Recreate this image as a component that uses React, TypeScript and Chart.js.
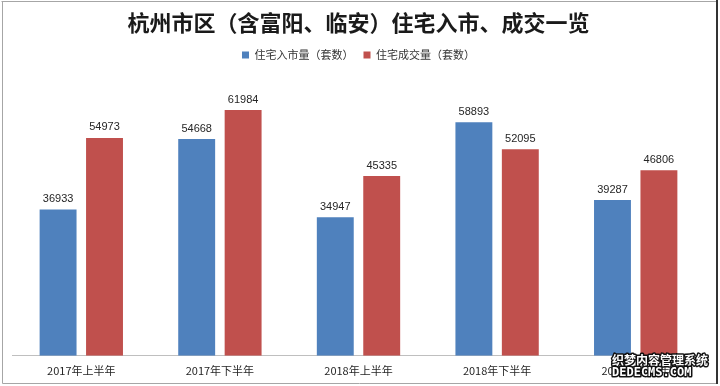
import React, { useEffect, useRef } from "react";
import { Chart, registerables } from "chart.js";

Chart.register(...registerables);

const categories = ["2017年上半年", "2017年下半年", "2018年上半年", "2018年下半年", "2019年上半年"];
const supplyValues = [36933, 54668, 34947, 58893, 39287];
const dealValues = [54973, 61984, 45335, 52095, 46806];
const seriesNames = ["住宅入市量（套数）", "住宅成交量（套数）"];
const titleText = "杭州市区（含富阳、临安）住宅入市、成交一览";
const watermarkLines = ["织梦内容管理系统", "DEDECMS.COM"];

const CJK = '"Noto Sans CJK SC", "Liberation Sans", sans-serif';

const framePlugin = {
  id: "frame",
  beforeDraw(chart: any) {
    const { ctx, width, height } = chart;
    ctx.save();
    ctx.fillStyle = "#ffffff";
    ctx.fillRect(0, 0, width, height);
    ctx.strokeStyle = "#a6a6a6";
    ctx.lineWidth = 1;
    ctx.beginPath();
    ctx.moveTo(1.5, 1.5);
    ctx.lineTo(width - 3.5, 1.5);
    ctx.moveTo(2.5, 1.5);
    ctx.lineTo(2.5, height - 2.5);
    ctx.lineTo(width - 3.5, height - 2.5);
    ctx.stroke();
    ctx.strokeStyle = "#333333";
    ctx.lineWidth = 2;
    ctx.beginPath();
    ctx.moveTo(width - 3, 0);
    ctx.lineTo(width - 3, height - 2);
    ctx.stroke();
    ctx.restore();
  },
};

const valueLabelPlugin = {
  id: "valueLabels",
  afterDatasetsDraw(chart: any) {
    const { ctx } = chart;
    ctx.save();
    ctx.font = '11px "Liberation Sans", Arial, sans-serif';
    ctx.fillStyle = "#262626";
    ctx.textAlign = "center";
    ctx.textBaseline = "bottom";
    chart.data.datasets.forEach((ds: any, di: number) => {
      const meta = chart.getDatasetMeta(di);
      meta.data.forEach((bar: any, i: number) => {
        ctx.fillText(String(ds.data[i]), bar.x, bar.y - 5);
      });
    });
    ctx.restore();
  },
};

const watermarkPlugin = {
  id: "watermark",
  afterDraw(chart: any) {
    const { ctx } = chart;
    ctx.save();
    ctx.textAlign = "left";
    ctx.textBaseline = "middle";
    ctx.lineJoin = "round";
    ctx.font = 'bold 12px "Noto Sans CJK SC", sans-serif';
    ctx.strokeStyle = "#111111";
    ctx.lineWidth = 3;
    ctx.fillStyle = "#ffffff";
    ctx.strokeText(watermarkLines[0], 612, 360);
    ctx.fillText(watermarkLines[0], 612, 360);
    ctx.font = 'bold 12px "DejaVu Sans Mono", monospace';
    ctx.strokeText(watermarkLines[1], 612, 373);
    ctx.fillText(watermarkLines[1], 612, 373);
    ctx.restore();
  },
};

export default function App() {
  const canvasRef = useRef<HTMLCanvasElement | null>(null);

  useEffect(() => {
    document.body.style.margin = "0";
    const canvas = canvasRef.current;
    if (!canvas) return;
    const chart = new Chart(canvas, {
      type: "bar",
      data: {
        labels: categories,
        datasets: [
          {
            label: seriesNames[0],
            data: supplyValues,
            backgroundColor: "#4F81BD",
            categoryPercentage: 0.67,
            barPercentage: 0.795,
          },
          {
            label: seriesNames[1],
            data: dealValues,
            backgroundColor: "#C0504D",
            categoryPercentage: 0.67,
            barPercentage: 0.795,
          },
        ],
      },
      options: {
        animation: false,
        responsive: false,
        maintainAspectRatio: false,
        layout: { padding: { left: 12, right: 15, top: 0, bottom: 1 } },
        plugins: {
          title: {
            display: true,
            text: titleText,
            color: "#1a1a1a",
            font: { family: CJK, size: 22, weight: "bold" },
            padding: { top: 9, bottom: 4 },
          },
          legend: {
            display: true,
            labels: {
              color: "#333333",
              font: { family: CJK, size: 11 },
              boxWidth: 7,
              boxHeight: 7,
              padding: 10,
            },
          },
          tooltip: { enabled: false },
        },
        scales: {
          x: {
            grid: { display: false, drawTicks: false },
            border: { display: true, color: "#bfbfbf", width: 1 },
            ticks: { color: "#262626", font: { family: CJK, size: 11 }, padding: 8 },
          },
          y: {
            display: false,
            min: 0,
            max: 72000,
          },
        },
      },
      plugins: [framePlugin, valueLabelPlugin, watermarkPlugin],
    });
    return () => chart.destroy();
  }, []);

  return (
    <div style={{ width: 720, height: 386, position: "relative" }}>
      <canvas ref={canvasRef} width={720} height={386} style={{ display: "block" }} />
    </div>
  );
}
